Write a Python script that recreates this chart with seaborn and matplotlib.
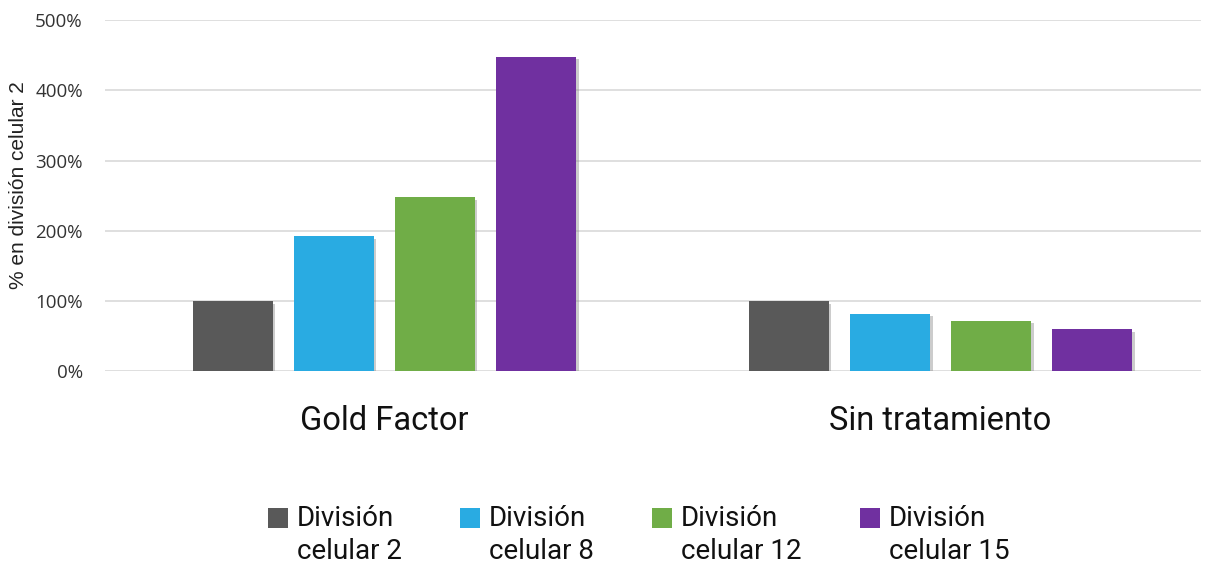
import matplotlib
matplotlib.use("Agg")
import matplotlib.pyplot as plt
import matplotlib.patheffects as pe
from matplotlib.patches import Rectangle
from matplotlib.ticker import FuncFormatter
import seaborn as sns
import pandas as pd

# data (percent of "división celular 2")
groups = ["Gold Factor", "Sin tratamiento"]
series = ["División\ncelular 2", "División\ncelular 8", "División\ncelular 12", "División\ncelular 15"]
gold_factor = [100, 192, 248, 448]
sin_tratamiento = [100, 82, 72, 60]
colors = ["#595959", "#29ABE2", "#70AD47", "#7030A0"]

df = pd.DataFrame({
    "grupo": [groups[0]] * 4 + [groups[1]] * 4,
    "serie": series * 2,
    "valor": gold_factor + sin_tratamiento,
})

sns.set_style("white")
plt.rcParams["font.family"] = ["Roboto", "DejaVu Sans"]

W, H = 1214, 565
fig = plt.figure(figsize=(W / 100, H / 100), dpi=100)
ax = fig.add_axes([0.0865, 0.343, 0.9025, 0.6214])

sns.barplot(data=df, x="grupo", y="valor", hue="serie", palette=colors,
            saturation=1, width=0.727, gap=0.21, ax=ax, legend=False)

shadow = [pe.SimplePatchShadow(offset=(2, -2), shadow_rgbFace="#808080", alpha=0.4), pe.Normal()]
for p in ax.patches:
    p.set_path_effects(shadow)
    p.set_edgecolor("none")

ax.set_ylim(0, 500)
ax.set_xlim(-0.502, 1.468)
ax.set_yticks([0, 100, 200, 300, 400, 500])
ax.yaxis.set_major_formatter(FuncFormatter(lambda v, _: f"{int(v)}%"))
ax.grid(axis="y", color="#d9d9d9", linewidth=1.2)
ax.set_axisbelow(True)
for s in ax.spines.values():
    s.set_visible(False)

ax.tick_params(axis="y", length=0, pad=16, labelsize=13.5, labelcolor="#333333")
ax.tick_params(axis="x", length=0, pad=24, labelsize=23.5, labelcolor="#111111")
for t in ax.get_yticklabels():
    t.set_family(["Open Sans", "DejaVu Sans"])
ax.set_xlabel("")
ax.set_ylabel("% en división celular 2", fontsize=15, color="#222222",
              family=["Liberation Sans", "DejaVu Sans"], labelpad=0)
ax.yaxis.set_label_coords(-0.07, 0.53)

# legend drawn by hand so the swatch sits beside the first text line
leg_x = [268, 460, 652, 860]
for x0, c, lab in zip(leg_x, colors, series):
    fig.patches.append(Rectangle((x0 / W, 1 - 528 / H), 20 / W, 20 / H,
                                 transform=fig.transFigure, facecolor=c,
                                 edgecolor="none"))
    fig.text((x0 + 29) / W, 1 - 505 / H, lab, ha="left", va="top",
             fontsize=20, color="#111111", linespacing=1.3)

fig.savefig("out.png", dpi=100)
